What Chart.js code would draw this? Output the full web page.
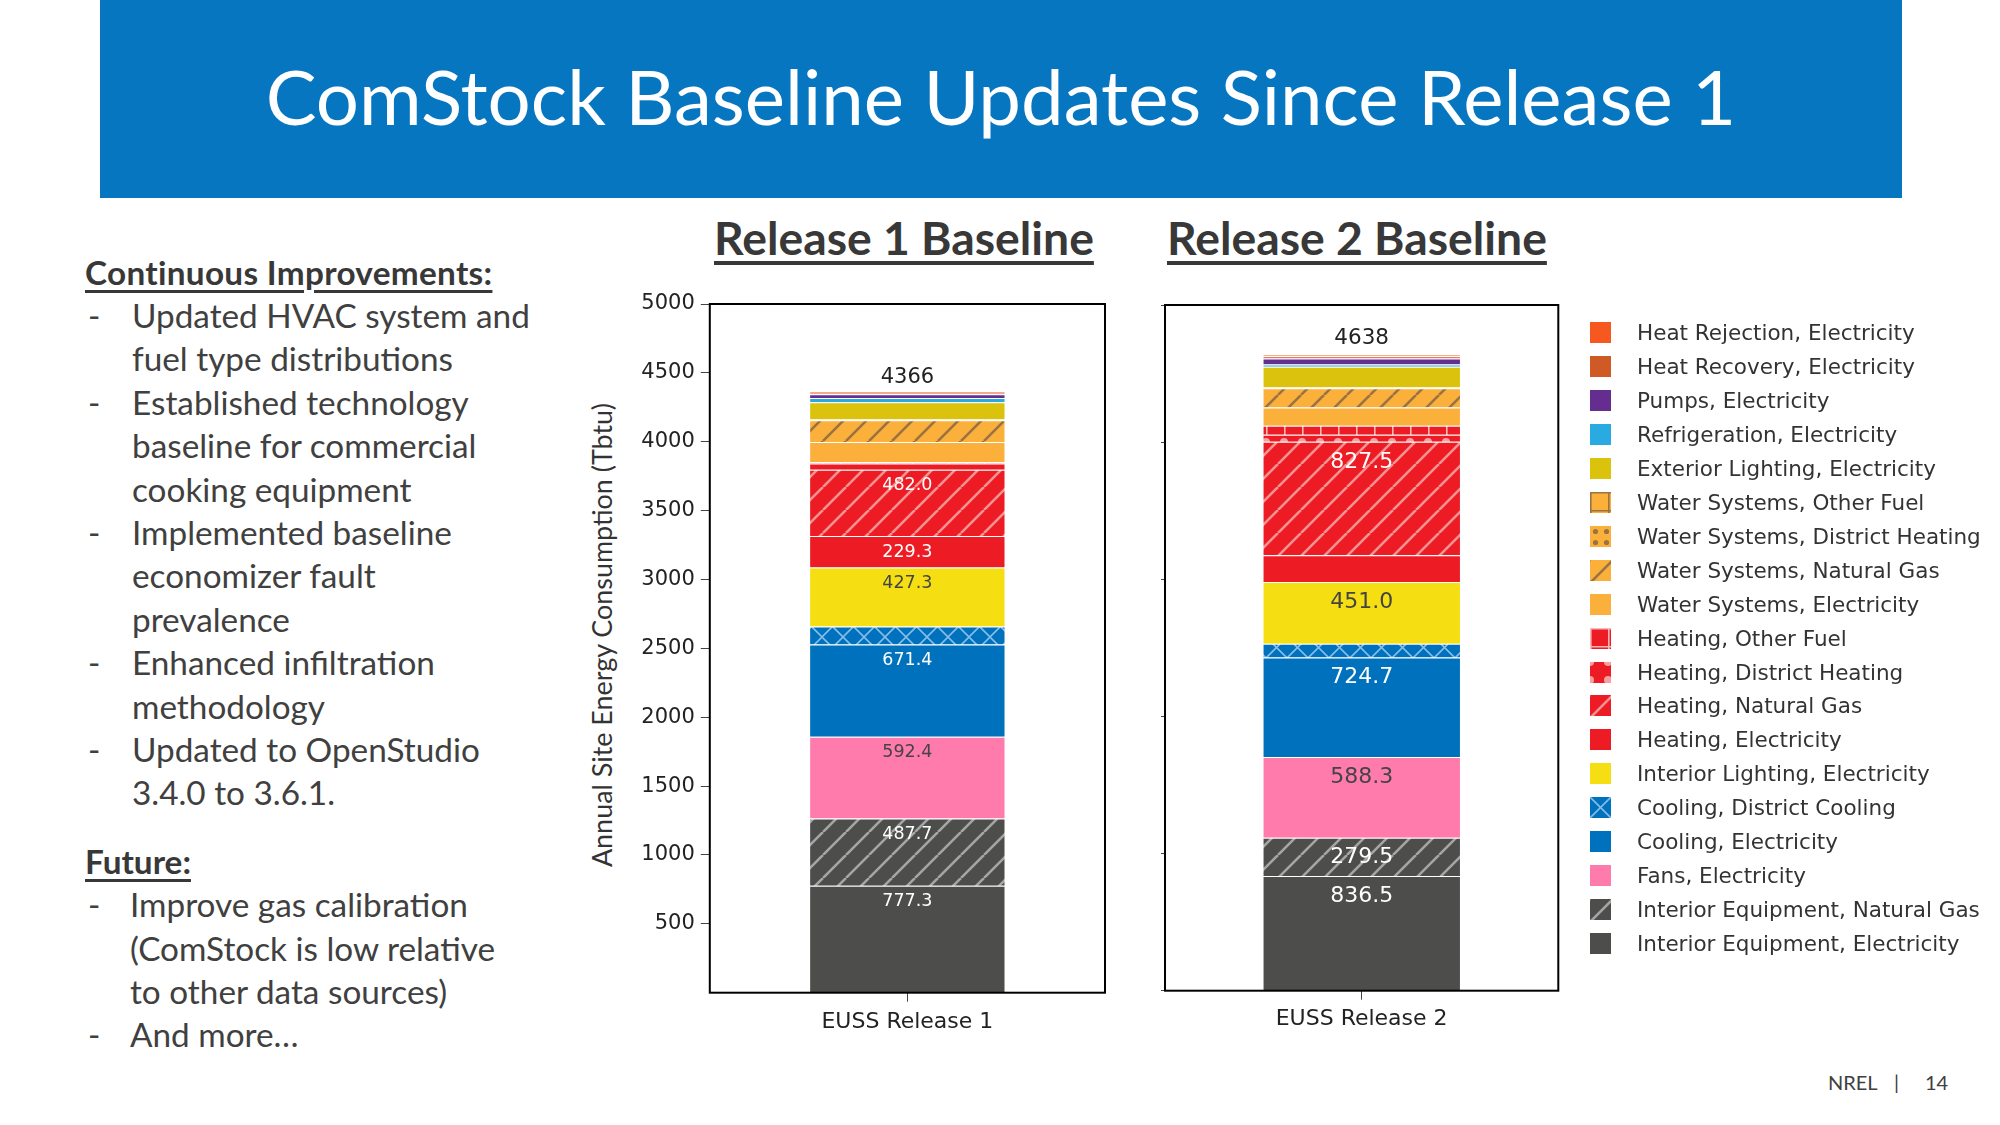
<!DOCTYPE html>
<html>
<head>
<meta charset="utf-8">
<title>ComStock Baseline Updates Since Release 1</title>
<script src="https://cdn.jsdelivr.net/npm/chart.js@4.4.1/dist/chart.umd.min.js"></script>
<style>
  html, body { margin: 0; padding: 0; background: #fff; }
  body { width: 2000px; height: 1125px; position: relative; overflow: hidden; font-family: Lato, "Open Sans", sans-serif; color: #404040; }
  #banner { position: absolute; left: 100px; top: 0; width: 1802px; height: 198px; background: #0776c0; }
  #title { position: absolute; left: 0; right: 0; top: -3px; height: 198px; line-height: 198px; text-align: center; color: #fff; white-space: nowrap; }
  .heading { position: absolute; top: 211px; height: 52px; line-height: 52px; font-weight: bold; color: #383838; text-decoration: underline; text-decoration-thickness: 4px; text-underline-offset: 6px; white-space: nowrap; }
  .block { position: absolute; left: 85px; line-height: 43.4px; white-space: nowrap; }
  .block .hd { font-weight: bold; text-decoration: underline; text-decoration-thickness: 3px; text-underline-offset: 5px; color: #383838; }
  .block .li { position: relative; padding-left: 47px; }
  .block .li span.dash { position: absolute; left: 3px; top: 0; }
  .chartbox { position: absolute; }
  #yTitle { position: absolute; left: 602px; top: 635px; transform: translate(-50%, -50%) rotate(-90deg); white-space: nowrap; color: #333; line-height: 1; }
  #legend { position: absolute; left: 1590px; top: 315.7px; font-family: "DejaVu Sans", sans-serif; font-size: 21.5px; color: #333; }
  #legend .row { height: 33.95px; display: flex; align-items: center; white-space: nowrap; }
  #legend canvas { width: 21px; height: 21px; margin-right: 26px; flex: none; }
  #footer { position: absolute; top: 1069px; font-size: 20px; color: #404040; line-height: 26px; }
  #footer span { position: absolute; white-space: nowrap; }
</style>
</head>
<body>
<div id="banner"><div id="title">ComStock Baseline Updates Since Release 1</div></div>

<div class="heading" id="head1" style="left:714px">Release 1 Baseline</div>
<div class="heading" id="head2" style="left:1167px">Release 2 Baseline</div>

<div class="block" id="improvements" style="top:250.5px">
  <div class="hd" id="hdImprove">Continuous Improvements:</div>
  <div class="li"><span class="dash">-</span>Updated HVAC system and<br>fuel type distributions</div>
  <div class="li"><span class="dash">-</span>Established technology<br>baseline for commercial<br>cooking equipment</div>
  <div class="li"><span class="dash">-</span>Implemented baseline<br>economizer fault<br>prevalence</div>
  <div class="li"><span class="dash">-</span>Enhanced infiltration<br>methodology</div>
  <div class="li"><span class="dash">-</span>Updated to OpenStudio<br>3.4.0 to 3.6.1.</div>
</div>

<div class="block" id="future" style="top:839.8px">
  <div class="hd">Future:</div>
  <div class="li" style="padding-left:45px"><span class="dash">-</span>Improve gas calibration<br>(ComStock is low relative<br>to other data sources)</div>
  <div class="li" style="padding-left:45px"><span class="dash">-</span>And more…</div>
</div>

<div id="yTitle">Annual Site Energy Consumption (Tbtu)</div>
<div class="chartbox" style="left:570px; top:280px"><canvas id="chartRelease1" width="555" height="770"></canvas></div>
<div class="chartbox" style="left:1140px; top:280px"><canvas id="chartRelease2" width="440" height="770"></canvas></div>
<div id="legend"></div>

<div id="footer">
  <span style="left:1828px">NREL</span>
  <span style="left:1894px">|</span>
  <span style="left:1925px">14</span>
</div>

<script>
// ================= DATA =================
const releaseLabels = ['EUSS Release 1', 'EUSS Release 2'];

// end uses, bottom of the stack first
const endUses = [
    'Interior Equipment, Electricity',
    'Interior Equipment, Natural Gas',
    'Fans, Electricity',
    'Cooling, Electricity',
    'Cooling, District Cooling',
    'Interior Lighting, Electricity',
    'Heating, Electricity',
    'Heating, Natural Gas',
    'Heating, District Heating',
    'Heating, Other Fuel',
    'Water Systems, Electricity',
    'Water Systems, Natural Gas',
    'Water Systems, District Heating',
    'Water Systems, Other Fuel',
    'Exterior Lighting, Electricity',
    'Refrigeration, Electricity',
    'Pumps, Electricity',
    'Heat Recovery, Electricity',
    'Heat Rejection, Electricity'
];

// annual site energy, TBtu
const release1Values = [777.3, 487.7, 592.4, 671.4, 130.0, 427.3, 229.3, 482.0, 45.0, 8.0,
                        148.0, 157.0, 4.0, 3.0, 124.0, 32.0, 26.0, 12.0, 9.6];
const release2Values = [836.5, 279.5, 588.3, 724.7, 100.0, 451.0, 195.0, 827.5, 51.0, 66.0,
                        134.0, 139.0, 4.0, 3.0, 150.0, 16.0, 44.0, 16.0, 12.5];

const yMax = 5000;
const labelMin = 200;   // segments smaller than this get no value label

// ================= STYLE =================
const baseColors = ['#4d4d4b', '#4d4d4b', '#ff7bac', '#0071bc', '#0071bc', '#f5df12', '#ed1c24', '#ed1c24', '#ed1c24', '#ed1c24',
                    '#fbb03b', '#fbb03b', '#fbb03b', '#fbb03b', '#dbc30d', '#29abe2', '#662d91', '#d05a26', '#f7581f'];
const patternKinds = ['', 'slash', '', '', 'x', '', '', 'slash', 'cornerdots', 'grid',
                      '', 'slash', 'dots', 'grid', '', '', '', '', ''];
const patternInks = ['', '#a5a5a5', '', '', '#84bde8', '', '', '#f59393', '#f7a0a0', '#f8b8b8',
                     '', '#9a7343', '#9a7343', '#9a7343', '', '', '', '', ''];
const textColors = ['#ffffff', '#ffffff', '#444444', '#ffffff', '#ffffff', '#444444', '#ffffff', '#ffffff', '#ffffff', '#ffffff',
                    '#444444', '#444444', '#444444', '#444444', '#444444', '#ffffff', '#ffffff', '#ffffff', '#ffffff'];

function makeTile(kind, bg, ink) {
    const size = { slash: 23, x: 21, grid: 18, cornerdots: 18, dots: 10.5 }[kind];
    const c = document.createElement('canvas');
    c.width = c.height = Math.round(size);
    const s = c.width;
    const g = c.getContext('2d');
    g.fillStyle = bg;
    g.fillRect(0, 0, s, s);
    g.strokeStyle = ink;
    g.fillStyle = ink;
    if (kind === 'slash' || kind === 'x') {
        g.lineWidth = kind === 'x' ? 1.6 : 2.6;
        g.beginPath();
        for (const o of [-s, 0, s]) { g.moveTo(o, s); g.lineTo(o + s, 0); }
        if (kind === 'x') for (const o of [-s, 0, s]) { g.moveTo(o, 0); g.lineTo(o + s, s); }
        g.stroke();
    } else if (kind === 'grid') {
        g.lineWidth = 1.6;
        g.beginPath();
        g.moveTo(0.8, 0); g.lineTo(0.8, s);
        g.moveTo(0, 0.8); g.lineTo(s, 0.8);
        g.stroke();
    } else if (kind === 'cornerdots') {
        for (const [px, py] of [[0, 0], [s, 0], [0, s], [s, s]]) {
            g.beginPath(); g.arc(px, py, 4, 0, Math.PI * 2); g.fill();
        }
    } else if (kind === 'dots') {
        g.beginPath(); g.arc(s / 2, s / 2, 2.6, 0, Math.PI * 2); g.fill();
    }
    return c;
}

const fills = baseColors.map((col, i) => {
    if (!patternKinds[i]) return col;
    const tile = makeTile(patternKinds[i], col, patternInks[i]);
    return tile.getContext('2d').createPattern(tile, 'repeat');
});

// ================= TEXT SIZING =================
const measureCtx = document.createElement('canvas').getContext('2d');
function textWidth(text, weight, family, size) {
    measureCtx.font = weight + ' ' + size + 'px ' + family;
    return measureCtx.measureText(text).width;
}
function fitSize(text, weight, family, width) {
    return 100 * width / textWidth(text, weight, family, 100);
}

document.getElementById('title').style.fontSize =
    fitSize('ComStock Baseline Updates Since Release 1', 'normal', 'Lato', 1471) + 'px';
const headSize = fitSize('Release 1 Baseline', 'bold', 'Lato', 380) + 'px';
document.getElementById('head1').style.fontSize = headSize;
document.getElementById('head2').style.fontSize = headSize;
const bodySize = fitSize('Updated HVAC system and', 'normal', 'Lato', 398);
document.getElementById('improvements').style.fontSize = bodySize + 'px';
document.getElementById('future').style.fontSize = bodySize + 'px';
const hdText = 'Continuous Improvements:';
document.getElementById('hdImprove').style.letterSpacing =
    ((408 - textWidth(hdText, 'bold', 'Lato', bodySize)) / hdText.length) + 'px';
document.getElementById('yTitle').style.fontSize =
    fitSize('Annual Site Energy Consumption (Tbtu)', 'normal', 'Lato', 465) + 'px';

// ================= PLUGINS =================
const plotFrame = {
    id: 'plotFrame',
    afterDraw(chart) {
        const { ctx, chartArea: a } = chart;
        ctx.save();
        ctx.strokeStyle = '#000';
        ctx.lineWidth = 2;
        ctx.strokeRect(a.left, a.top, a.right - a.left, a.bottom - a.top);
        ctx.restore();
    }
};

const segmentLabels = {
    id: 'segmentLabels',
    afterDatasetsDraw(chart, args, opts) {
        const ctx = chart.ctx;
        let top = Infinity, total = 0, x = 0;
        ctx.save();
        ctx.textAlign = 'center';
        ctx.textBaseline = 'middle';
        ctx.font = opts.size + 'px "DejaVu Sans"';
        chart.data.datasets.forEach((ds, i) => {
            const bar = chart.getDatasetMeta(i).data[0];
            const v = ds.data[0];
            total += v;
            top = Math.min(top, bar.y);
            x = bar.x;
            if (v >= labelMin) {
                ctx.fillStyle = ds.labelColor;
                ctx.fillText(v.toFixed(1), bar.x, bar.y + opts.inset);
            }
        });
        ctx.fillStyle = '#222';
        ctx.font = opts.totalSize + 'px "DejaVu Sans"';
        ctx.fillText(String(Math.round(total)), x, top - opts.gap);
        ctx.restore();
    }
};

// ================= CHARTS =================
function buildChart(id, label, values, o) {
    return new Chart(document.getElementById(id), {
        type: 'bar',
        data: {
            labels: [label],
            datasets: endUses.map((name, i) => ({
                label: name,
                data: [values[i]],
                backgroundColor: fills[i],
                borderColor: '#ffffff',
                borderWidth: { top: 1, right: 0, bottom: 0, left: 0 },
                borderSkipped: false,
                barPercentage: 1,
                categoryPercentage: o.barShare,
                labelColor: textColors[i]
            }))
        },
        options: {
            responsive: false,
            animation: false,
            devicePixelRatio: 1,
            layout: { padding: o.padding },
            plugins: {
                legend: { display: false },
                tooltip: { enabled: false },
                segmentLabels: o.labels
            },
            scales: {
                x: {
                    stacked: true,
                    border: { display: false },
                    grid: { offset: false, drawOnChartArea: false, drawTicks: true, tickLength: 9, color: '#444' },
                    ticks: { color: '#222', padding: o.xPad, font: { family: 'DejaVu Sans', size: 22 } },
                    afterFit: s => { s.height = o.xHeight; }
                },
                y: {
                    stacked: true,
                    min: 0,
                    max: yMax,
                    border: { display: false },
                    grid: { drawOnChartArea: false, drawTicks: true, tickLength: o.yTick, color: '#444' },
                    ticks: {
                        display: o.yLabels,
                        stepSize: o.yStep,
                        color: '#222',
                        padding: 6,
                        font: { family: 'DejaVu Sans', size: 21 },
                        callback: v => String(v)
                    },
                    afterBuildTicks: s => { if (o.yLabels) s.ticks = s.ticks.filter(t => t.value !== 0); },
                    afterFit: s => { s.width = o.yWidth; }
                }
            }
        },
        plugins: [plotFrame, segmentLabels]
    });
}

const chart1 = buildChart('chartRelease1', releaseLabels[0], release1Values, {
    barShare: 0.4925,
    padding: { top: 24, right: 20, bottom: 0, left: 0 },
    xHeight: 57.3, xPad: 7,
    yWidth: 139.8, yTick: 9, yStep: 500, yLabels: true,
    labels: { size: 17.5, inset: 16, totalSize: 21, gap: 14 }
});

const chart2 = buildChart('chartRelease2', releaseLabels[1], release2Values, {
    barShare: 0.5,
    padding: { top: 25, right: 21.7, bottom: 0, left: 0 },
    xHeight: 59.3, xPad: 6,
    yWidth: 25, yTick: 4, yStep: 1000, yLabels: false,
    labels: { size: 22, inset: 20, totalSize: 21.5, gap: 16 }
});

// ================= LEGEND =================
const legend = document.getElementById('legend');
chart2.data.datasets.slice().reverse().forEach(ds => {
    const row = document.createElement('div');
    row.className = 'row';
    const sw = document.createElement('canvas');
    sw.width = 21; sw.height = 21;
    const g = sw.getContext('2d');
    g.fillStyle = ds.backgroundColor;
    g.fillRect(0, 0, 21, 21);
    const txt = document.createElement('span');
    txt.textContent = ds.label;
    row.appendChild(sw);
    row.appendChild(txt);
    legend.appendChild(row);
});
</script>
</body>
</html>
